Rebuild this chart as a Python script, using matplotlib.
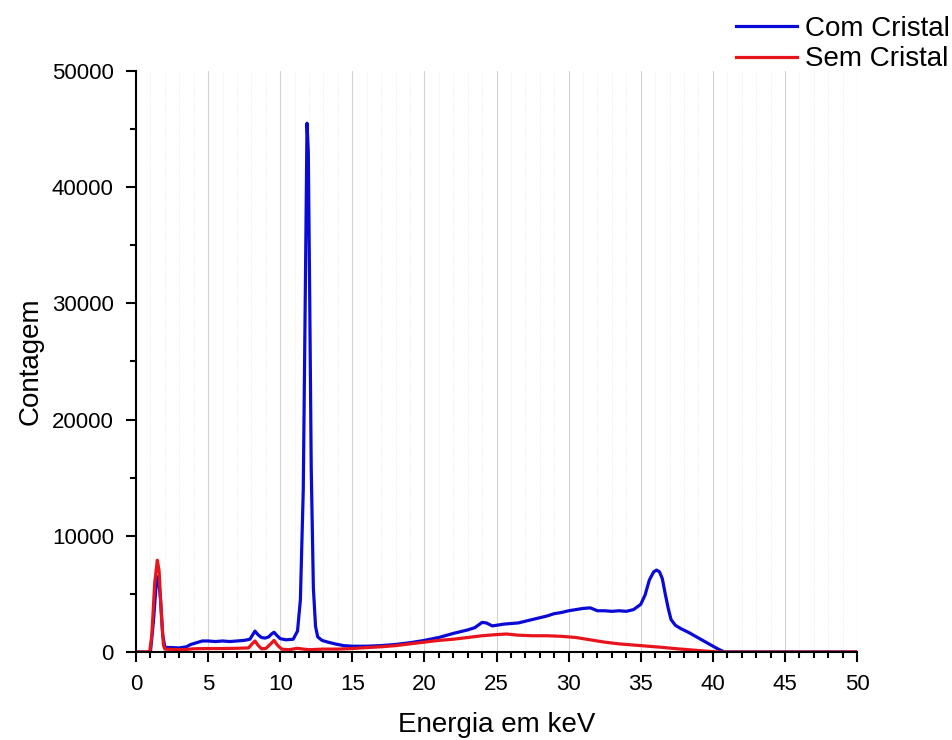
import matplotlib
matplotlib.use('Agg')
import matplotlib.pyplot as plt
from matplotlib.ticker import MultipleLocator

plt.rcParams['font.family'] = ['Liberation Sans', 'DejaVu Sans']

# espectro com cristal (keV, contagem)
energia_com = [0, 1.0, 1.2, 1.4, 1.55, 1.7, 1.85, 2.0, 2.5, 3.0, 3.5, 3.8, 4.2, 4.6, 5.0,
               5.5, 6.0, 6.5, 7.0, 7.5, 7.9, 8.1, 8.25, 8.45, 8.7, 8.95, 9.2, 9.4, 9.57,
               9.75, 10.0, 10.4, 10.9, 11.2, 11.4, 11.6, 11.75, 11.86, 11.95, 12.05, 12.15,
               12.3, 12.45, 12.6, 12.9, 13.3, 13.8, 14.4, 15, 16, 17, 18, 19, 20, 21, 22,
               22.5, 23, 23.5, 24.0, 24.3, 24.7, 25, 25.5, 26, 26.5, 27, 27.5, 28, 28.5, 29,
               29.5, 30, 30.5, 31, 31.5, 32, 32.5, 33, 33.5, 34, 34.5, 35, 35.3, 35.6, 35.9,
               36.1, 36.3, 36.5, 36.7, 36.9, 37.1, 37.4, 37.8, 38.3, 38.8, 39.3, 39.8, 40.3,
               40.8, 41, 50]
contagem_com = [0, 0, 2500, 5800, 6500, 4500, 1500, 400, 380, 350, 450, 650, 800, 950, 950,
                900, 950, 900, 950, 1000, 1100, 1500, 1800, 1500, 1250, 1200, 1300, 1550, 1700,
                1450, 1150, 1050, 1100, 1800, 4500, 14000, 32000, 45500, 43000, 30000, 16000,
                5500, 2200, 1300, 1000, 850, 700, 550, 500, 500, 550, 650, 800, 1000, 1250, 1600,
                1750, 1900, 2100, 2550, 2500, 2250, 2300, 2400, 2450, 2500, 2650, 2800, 2950, 3100, 3300,
                3400, 3550, 3650, 3750, 3800, 3550, 3550, 3500, 3550, 3500, 3650, 4100, 4900, 6200, 6900,
                7050, 6900, 6300, 5000, 3800, 2800, 2300, 2000, 1700, 1350, 1000, 650, 300,
                0, 0, 0]

# espectro sem cristal
energia_sem = [0, 0.95, 1.1, 1.3, 1.48, 1.6, 1.75, 1.9, 2.0, 3, 3.5, 4, 5, 6, 7, 7.8, 8.05,
               8.25, 8.45, 8.7, 9.0, 9.3, 9.57, 9.8, 10.1, 10.6, 11.2, 11.6, 12, 13, 14, 15,
               16, 17, 18, 19, 20, 21, 22, 23, 24, 25, 25.7, 26.5, 27.5, 28.5, 29.5, 30.5,
               31.5, 32.5, 33.5, 34.5, 35.5, 36.5, 37.5, 38.5, 39.3, 40, 40.6, 50]
contagem_sem = [0, 0, 1500, 6000, 7900, 7000, 3500, 600, 250, 200, 220, 280, 300, 300, 320, 350, 700,
                950, 600, 280, 300, 650, 1000, 600, 250, 200, 320, 250, 200, 250, 250, 300,
                380, 450, 550, 700, 850, 1000, 1100, 1250, 1400, 1500, 1550, 1450, 1400, 1400, 1350, 1250,
                1050, 850, 700, 600, 500, 400, 280, 180, 100, 30, 0, 0]

fig = plt.figure(figsize=(9.53, 7.40), dpi=100)
ax = fig.add_axes([0.1427, 0.1189, 0.7566, 0.7852])

ax.plot(energia_com, contagem_com, color='#0a0ad6', lw=2.3, label='Com Cristal')
ax.plot(energia_sem, contagem_sem, color='#e8141c', lw=2.3, label='Sem Cristal')

ax.set_xlim(0, 50)
ax.set_ylim(0, 50000)
ax.xaxis.set_major_locator(MultipleLocator(5))
ax.xaxis.set_minor_locator(MultipleLocator(1))
ax.yaxis.set_major_locator(MultipleLocator(10000))
ax.yaxis.set_minor_locator(MultipleLocator(5000))

# grade vertical
ax.grid(axis='x', which='major', color='#d4d4d4', lw=0.8)
ax.grid(axis='x', which='minor', color='#e6e6e6', lw=0.6, ls=':')
ax.set_axisbelow(True)

for s in ['top', 'right']:
    ax.spines[s].set_visible(False)
for s in ['left', 'bottom']:
    ax.spines[s].set_linewidth(1.5)
ax.tick_params(which='major', direction='out', length=7, width=1.5, labelsize=16, pad=9)
ax.tick_params(which='minor', direction='out', length=4, width=1.5)

ax.set_xlabel('Energia em keV', fontsize=20, labelpad=12)
ax.set_ylabel('Contagem', fontsize=20, labelpad=6)

fig.legend(loc='upper right', bbox_to_anchor=(1.023, 1.012), frameon=False, fontsize=20,
           handlelength=2.2, handletextpad=0.3, labelspacing=0.15)

plt.savefig('out.png', dpi=100)
